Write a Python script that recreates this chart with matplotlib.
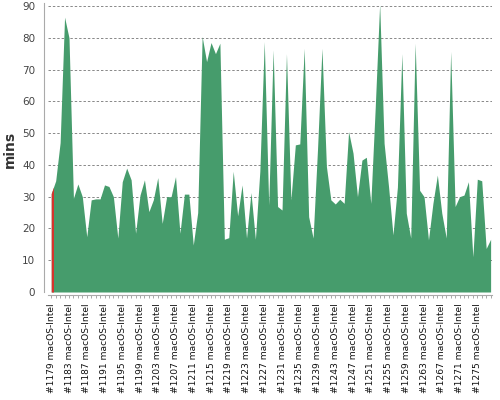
import numpy as np
import matplotlib
matplotlib.use("Agg")
import matplotlib.pyplot as plt
from matplotlib.ticker import FixedLocator

# build numbers and durations (minutes)
builds = list(range(1179, 1279))
durations = [
    31, 35, 47, 86.5, 80, 29.5, 34, 30, 17.4, 29,
    29.3, 29.3, 33.7, 33.2, 30, 17, 34.7, 39, 35.3, 18.5,
    30.5, 35.3, 25.3, 29, 36, 21.6, 30, 30, 36.3, 18.5,
    30.8, 30.8, 14.8, 25, 80.4, 72.5, 78.5, 75, 78.3, 16.6,
    17.1, 38, 24, 33.7, 17, 31.3, 16.6, 38, 78.8, 27.4,
    76.2, 26.9, 25.8, 75, 29, 46.3, 46.6, 76.7, 23.7, 17,
    45, 76.7, 39.5, 29, 27.7, 29.2, 27.9, 50.5, 43.7, 30,
    41.5, 42.4, 27.9, 58, 90.7, 46.8, 33.2, 18, 33, 75,
    24.8, 17, 78.3, 32, 30, 16.4, 27.9, 36.8, 24.8, 17,
    75.7, 26.9, 30, 30.5, 34.7, 11.1, 35.5, 35, 13.7, 16.6,
]
failed_builds = [1179]
label_every = 4

green = "#469c6c"
red = "#d8322d"

x = np.arange(len(builds))
y = np.array(durations, dtype=float)

fig = plt.figure(figsize=(5, 4), dpi=100)
ax = fig.add_axes([0.0954, 0.27, 0.8876, 0.715])

# spines first: moving them resets the tick objects
for s in ["top", "right"]:
    ax.spines[s].set_visible(False)
ax.spines["left"].set_position(("outward", 3))
ax.spines["bottom"].set_position(("outward", 2))
ax.spines["left"].set_color("#aaaaaa")
ax.spines["bottom"].set_color("#aaaaaa")

# area for each build spans half a step either side of its point
xf = np.linspace(0, len(builds) - 1, (len(builds) - 1) * 20 + 1)
yf = np.interp(xf, x, y)
ax.fill_between(xf, 0, yf, color=green, linewidth=0, zorder=2)
for b in failed_builds:
    i = builds.index(b)
    seg = (xf >= i - 0.5) & (xf <= i + 0.5)
    ax.fill_between(xf[seg], 0, yf[seg], color=red, linewidth=0, zorder=2)

ax.set_xlim(-0.8, len(builds) - 0.8)
ax.set_ylim(0, 90)
ax.spines["left"].set_bounds(0, 91)
ax.set_yticks(range(0, 91, 10))
ax.yaxis.grid(True, linestyle=(0, (2.5, 2)), color="#888888", linewidth=0.7)
ax.set_axisbelow(True)

ax.xaxis.set_minor_locator(FixedLocator(x))
ax.set_xticks(x[::label_every],
              [f"#{b} macOS-Intel" for b in builds[::label_every]])
ax.tick_params(axis="x", which="both", length=2, width=0.6, color="#999999",
               pad=4, labelsize=6.6, labelcolor="#111111", labelrotation=90)
ax.tick_params(axis="y", length=0, labelsize=7.5, labelcolor="#444444", pad=6)

ax.set_ylabel("mins", fontsize=10, fontweight="bold", color="#333333", labelpad=4)

fig.savefig("out.png", dpi=100)
